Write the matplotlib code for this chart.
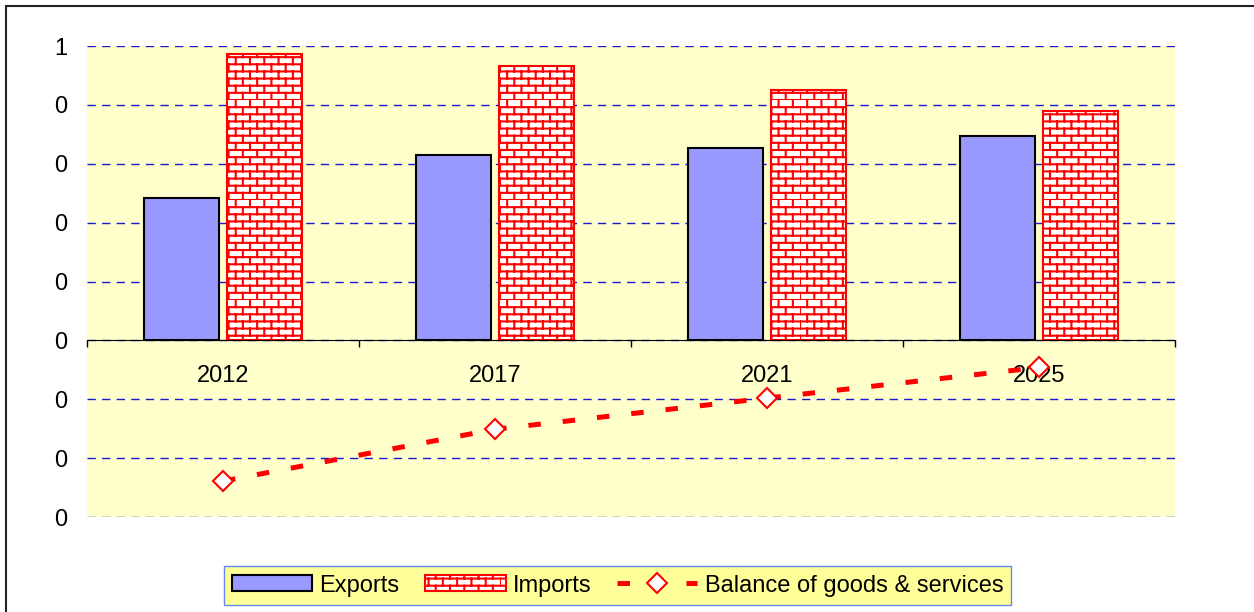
import warnings
import numpy as np
import matplotlib
matplotlib.use('Agg')
import matplotlib.pyplot as plt
import matplotlib.hatch as mhatch
from matplotlib.path import Path
from matplotlib.patches import Rectangle

warnings.filterwarnings('ignore')

years = ['2012', '2017', '2021', '2025']
exports = [0.242, 0.315, 0.327, 0.347]
imports = [0.486, 0.466, 0.425, 0.390]
balance = [-0.239, -0.151, -0.098, -0.046]
y_ticks = [-0.3, -0.2, -0.1, 0.0, 0.1, 0.2, 0.3, 0.4, 0.5]
y_labels = ['0', '0', '0', '0', '0', '0', '0', '0', '1']

################################################################

class BrickHatch(mhatch.HatchPatternBase):
    # vzorec opeke, znak 'b' v hatch
    def __init__(self, hatch, density):
        self.rows = 14 if 'b' in hatch else 0
        self.cols = 7
        self.num_vertices = self.rows * 2 + self.rows * self.cols * 2

    def set_vertices_and_codes(self, vertices, codes):
        k = 0
        for i in range(self.rows):
            y0 = i / self.rows
            y1 = (i + 1) / self.rows
            vertices[k] = (0.0, y0)
            vertices[k + 1] = (1.0, y0)
            codes[k] = Path.MOVETO
            codes[k + 1] = Path.LINETO
            k += 2
            off = 0.5 * (i % 2) / self.cols
            for j in range(self.cols):
                x = j / self.cols + off
                vertices[k] = (x, y0)
                vertices[k + 1] = (x, y1)
                codes[k] = Path.MOVETO
                codes[k + 1] = Path.LINETO
                k += 2

mhatch._hatch_types.append(BrickHatch)

plt.rcParams['font.family'] = ['Liberation Sans', 'DejaVu Sans']
plt.rcParams['hatch.linewidth'] = 1.5
fs = 17

fig = plt.figure(figsize=(12.54, 6.12), dpi=100)
ax = fig.add_axes([0.0694, 0.1552, 0.8676, 0.7696])
ax.set_facecolor('#FFFFCC')

x = np.arange(len(years))
w = 0.276
b1 = ax.bar(x - 0.153, exports, w, color='#9999FF', edgecolor='black', linewidth=1.5,
            label='Exports', zorder=2)
b2 = ax.bar(x + 0.153, imports, w, color='white', edgecolor='red', linewidth=1.5,
            hatch='b', label='Imports', zorder=2)
l1, = ax.plot(x, balance, color='red', lw=3.6, dashes=(2.5, 4.4), marker='D', ms=10,
              mfc='white', mec='red', mew=1.5, label='Balance of goods & services', zorder=3)

ax.set_xlim(-0.5, len(years) - 0.5)
ax.set_ylim(y_ticks[0], y_ticks[-1])
ax.set_yticks(y_ticks)
ax.set_yticklabels(y_labels)
ax.tick_params(axis='y', length=0, pad=14, labelsize=fs)
ax.yaxis.grid(True, color='#1A1ACC', linestyle=(0, (6, 4.5)), linewidth=1)
ax.set_axisbelow(True)

for s in ['top', 'right', 'left']:
    ax.spines[s].set_visible(False)
ax.spines['bottom'].set_position(('data', 0))
ax.spines['bottom'].set_zorder(2.5)

ax.set_xticks(np.arange(len(years) + 1) - 0.5)
ax.set_xticklabels([])
ax.set_xticks(x, minor=True)
ax.set_xticklabels(years, minor=True)
ax.tick_params(axis='x', which='major', direction='out', length=5, width=1)
ax.tick_params(axis='x', which='minor', length=0, pad=18, labelsize=fs)

leg = fig.legend([b1, b2, l1], ['Exports', 'Imports', 'Balance of goods & services'],
                 loc='center', bbox_to_anchor=(0.4924, 0.0433), ncol=3,
                 fontsize=fs, frameon=True, fancybox=False, framealpha=1,
                 handlelength=3.4, handleheight=0.65, handletextpad=0.3,
                 columnspacing=1.1, borderpad=0.35)
leg.get_frame().set_facecolor('#FFFF99')
leg.get_frame().set_edgecolor('#6688EE')
leg.get_frame().set_linewidth(1)

# okvir grafa (samo levo in zgoraj vidno)
fig.patches.append(Rectangle((6 / 1254, -0.1), 2, 1.1 - 6 / 612, fill=False,
                             edgecolor='#222222', linewidth=1.5,
                             transform=fig.transFigure, clip_on=False))

fig.savefig('out.png', dpi=100)
